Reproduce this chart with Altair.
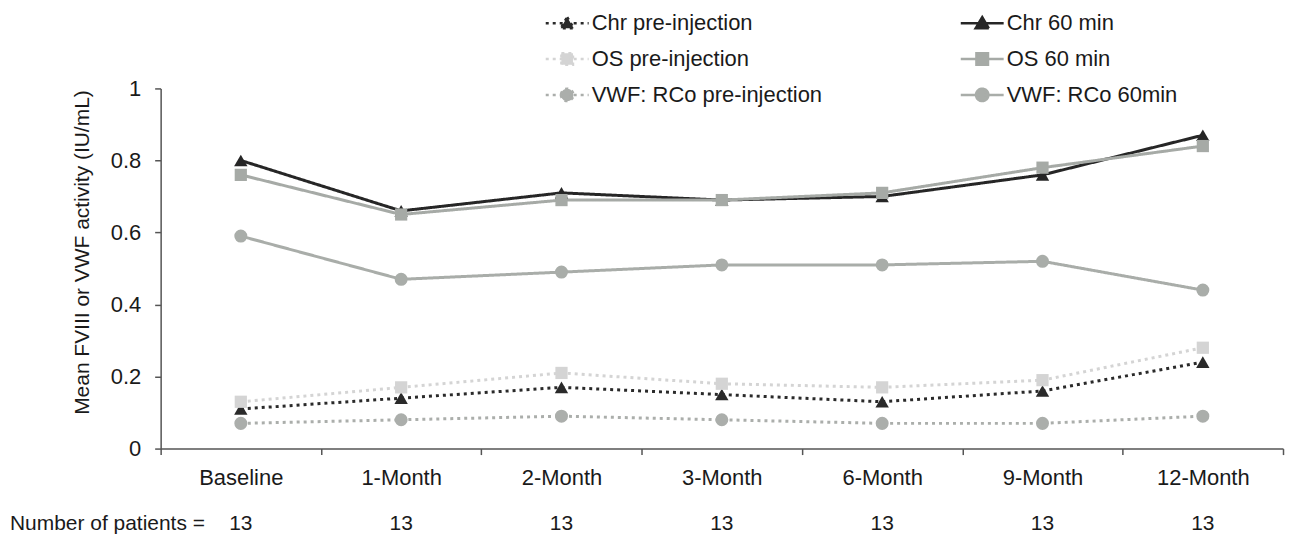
import altair as alt
import pandas as pd

times = ["Baseline", "1-Month", "2-Month", "3-Month", "6-Month", "9-Month", "12-Month"]
patients = [13, 13, 13, 13, 13, 13, 13]

series_names = [
    "Chr pre-injection", "OS pre-injection", "VWF: RCo pre-injection",
    "Chr 60 min", "OS 60 min", "VWF: RCo 60min",
]
chr_pre = [0.11, 0.14, 0.17, 0.15, 0.13, 0.16, 0.24]
os_pre = [0.13, 0.17, 0.21, 0.18, 0.17, 0.19, 0.28]
vwf_pre = [0.07, 0.08, 0.09, 0.08, 0.07, 0.07, 0.09]
chr_60 = [0.80, 0.66, 0.71, 0.69, 0.70, 0.76, 0.87]
os_60 = [0.76, 0.65, 0.69, 0.69, 0.71, 0.78, 0.84]
vwf_60 = [0.59, 0.47, 0.49, 0.51, 0.51, 0.52, 0.44]

series_values = [chr_pre, os_pre, vwf_pre, chr_60, os_60, vwf_60]
groups = ["Chr", "OS", "VWF", "Chr", "OS", "VWF"]

rows = []
for name, grp, vals in zip(series_names, groups, series_values):
    for t, v in zip(times, vals):
        rows.append({"series": name, "group": grp, "time": t, "value": v})
df = pd.DataFrame(rows)
df_n = pd.DataFrame({"time": times, "n": patients})

colors = ["#2a2a2a", "#d4d4d4", "#abaeab", "#262626", "#a6aaa6", "#a9ada9"]
dashes = [[3, 4], [3, 4], [3, 4], [1, 0], [1, 0], [1, 0]]

line = "M-2.15,0L2.15,0"
tri = line + "M0,-0.62L0.66,0.5L-0.66,0.5Z"
sq = line + "M-0.58,-0.58L0.58,-0.58L0.58,0.58L-0.58,0.58Z"
circ = line + "M-0.62,0A0.62,0.62,0,1,0,0.62,0A0.62,0.62,0,1,0,-0.62,0Z"
legend_shapes = [tri, sq, circ, tri, sq, circ]

FONT = "Liberation Sans"
W, H = 1125, 361

fill_scale = alt.Scale(domain=series_names, range=colors)
stroke_scale = alt.Scale(domain=series_names, range=colors)
dash_scale = alt.Scale(domain=series_names, range=dashes)
shape_scale = alt.Scale(domain=series_names, range=legend_shapes)

x_enc = alt.X(
    "time:N", sort=times, bandPosition=0.5,
    scale=alt.Scale(type="band", paddingInner=0, paddingOuter=0),
    axis=alt.Axis(title=None, labelAngle=0, tickBand="extent", tickSize=6,
                  labelPadding=13, labelFont=FONT, labelFontSize=22,
                  labelColor="#1a1a1a", domainColor="#555555", tickColor="#555555",
                  domainWidth=1.5, tickWidth=1.5),
)
y_enc = alt.Y(
    "value:Q", scale=alt.Scale(domain=[0, 1], nice=False, zero=True),
    axis=alt.Axis(title="Mean FVIII or VWF activity (IU/mL)", values=[0, 0.2, 0.4, 0.6, 0.8, 1],
                  format="~g", grid=False, tickSize=6, labelPadding=14,
                  labelFont=FONT, labelFontSize=22, labelColor="#1a1a1a",
                  titleFont=FONT, titleFontSize=21, titleFontWeight="normal",
                  titleColor="#1a1a1a", titleX=-78, titleY=164, titleBaseline="middle",
                  domainColor="#555555", tickColor="#555555", domainWidth=1.5, tickWidth=1.5),
)

legend = alt.Legend(
    title=None, orient="none", legendX=386, legendY=-77, columns=2,
    columnPadding=133, rowPadding=13, symbolSize=400, symbolStrokeWidth=2.5,
    symbolOffset=10, symbolOpacity=1, symbolFillColor="#000000", symbolStrokeColor="#000000",
    labelOffset=13, labelFont=FONT, labelFontSize=22, labelColor="#1a1a1a",
    labelLimit=400,
)

base = alt.Chart(df)

# legend carrier: draws nothing, only defines the legend
carrier = base.transform_filter("false").mark_point(opacity=1, strokeWidth=2.5).encode(
    x=x_enc, y=y_enc,
    fill=alt.Fill("series:N", scale=fill_scale, legend=legend),
    stroke=alt.Stroke("series:N", scale=stroke_scale, legend=legend),
    shape=alt.Shape("series:N", scale=shape_scale, legend=legend),
    strokeDash=alt.StrokeDash("series:N", scale=dash_scale, legend=legend),
)

lines = base.mark_line(strokeWidth=3).encode(
    x=x_enc, y=y_enc,
    stroke=alt.Stroke("series:N", scale=stroke_scale),
    strokeDash=alt.StrokeDash("series:N", scale=dash_scale),
)

def pts(grp, shape, size):
    return base.transform_filter(alt.datum.group == grp).mark_point(
        filled=True, shape=shape, size=size, opacity=1, strokeWidth=0
    ).encode(
        x=x_enc, y=y_enc,
        fill=alt.Fill("series:N", scale=fill_scale),
    )

p_chr = pts("Chr", "triangle-up", 180)
p_os = pts("OS", "square", 150)
p_vwf = pts("VWF", "circle", 170)

ntext = alt.Chart(df_n).mark_text(font=FONT, fontSize=21, color="#1a1a1a", baseline="middle").encode(
    x=x_enc, y=alt.value(H + 76), text="n:Q",
)
nlabel = alt.Chart(df_n).transform_filter(alt.datum.time == "Baseline").mark_text(
    font=FONT, fontSize=21, color="#1a1a1a", baseline="middle", align="left",
    text="Number of patients =",
).encode(x=alt.value(-151), y=alt.value(H + 76))

chart = alt.layer(carrier, lines, p_chr, p_os, p_vwf, ntext, nlabel).properties(
    width=W, height=H,
    autosize=alt.AutoSizeParams(type="none"),
    padding={"left": 153, "top": 80, "right": 2, "bottom": 86},
).configure(background="white", view=alt.ViewConfig(stroke=None))

chart.save("out.html", embed_options={"renderer": "svg", "actions": False})
